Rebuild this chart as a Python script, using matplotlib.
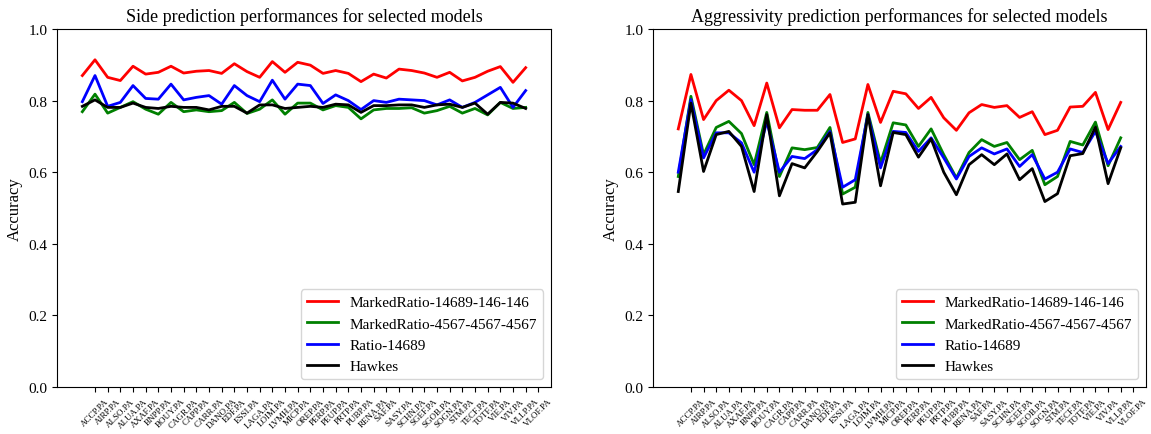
import numpy as np
import matplotlib
matplotlib.use('Agg')
import matplotlib.pyplot as plt

plt.rcParams['font.family'] = ['Liberation Serif', 'DejaVu Serif']

stocks = ['ACCP.PA', 'AIRP.PA', 'ALSO.PA', 'ALUA.PA', 'AXAF.PA', 'BNPP.PA', 'BOUY.PA', 'CAGR.PA',
          'CAPP.PA', 'CARR.PA', 'DANO.PA', 'EDF.PA', 'ESSI.PA', 'LAGA.PA', 'LOIM.PA', 'LVMH.PA',
          'MICP.PA', 'OREP.PA', 'PERP.PA', 'PEUP.PA', 'PRTP.PA', 'PUBP.PA', 'RENA.PA', 'SAF.PA',
          'SASY.PA', 'SCHN.PA', 'SGEF.PA', 'SGOB.PA', 'SOGN.PA', 'STM.PA', 'TECF.PA', 'TOTF.PA',
          'VIE.PA', 'VIV.PA', 'VLLP.PA', 'VLOF.PA']
labels = ['MarkedRatio-14689-146-146', 'MarkedRatio-4567-4567-4567', 'Ratio-14689', 'Hawkes']
colors = ['red', 'green', 'blue', 'black']

side_red = [0.870, 0.914, 0.865, 0.856, 0.896, 0.874, 0.879, 0.896, 0.877, 0.882, 0.884, 0.876,
            0.903, 0.881, 0.865, 0.909, 0.879, 0.907, 0.899, 0.876, 0.884, 0.876, 0.853, 0.874,
            0.863, 0.888, 0.884, 0.877, 0.865, 0.879, 0.855, 0.865, 0.882, 0.895, 0.851, 0.892]
side_green = [0.769, 0.818, 0.765, 0.781, 0.797, 0.776, 0.762, 0.795, 0.769, 0.774, 0.769, 0.772,
              0.795, 0.764, 0.776, 0.802, 0.762, 0.793, 0.793, 0.774, 0.786, 0.781, 0.749, 0.774,
              0.778, 0.778, 0.780, 0.765, 0.772, 0.784, 0.765, 0.778, 0.760, 0.795, 0.778, 0.781]
side_blue = [0.797, 0.870, 0.784, 0.795, 0.842, 0.806, 0.804, 0.846, 0.802, 0.809, 0.814, 0.790,
             0.842, 0.814, 0.797, 0.857, 0.804, 0.846, 0.842, 0.792, 0.816, 0.800, 0.775, 0.800,
             0.795, 0.804, 0.802, 0.800, 0.788, 0.802, 0.781, 0.795, 0.816, 0.837, 0.781, 0.828]
side_black = [0.784, 0.802, 0.781, 0.781, 0.793, 0.781, 0.778, 0.784, 0.781, 0.781, 0.774, 0.784,
              0.784, 0.765, 0.788, 0.788, 0.778, 0.781, 0.784, 0.781, 0.790, 0.788, 0.767, 0.786,
              0.786, 0.788, 0.788, 0.781, 0.788, 0.790, 0.781, 0.793, 0.762, 0.795, 0.793, 0.778]

agg_red = [0.721, 0.873, 0.747, 0.800, 0.829, 0.800, 0.730, 0.849, 0.724, 0.775, 0.773, 0.773,
           0.817, 0.683, 0.693, 0.845, 0.739, 0.826, 0.819, 0.778, 0.809, 0.752, 0.717, 0.766,
           0.789, 0.781, 0.786, 0.753, 0.769, 0.705, 0.717, 0.782, 0.784, 0.823, 0.719, 0.795]
agg_green = [0.588, 0.812, 0.649, 0.725, 0.742, 0.708, 0.621, 0.767, 0.588, 0.668, 0.663, 0.669,
             0.725, 0.539, 0.558, 0.767, 0.626, 0.738, 0.732, 0.672, 0.721, 0.649, 0.584, 0.655,
             0.691, 0.672, 0.683, 0.635, 0.661, 0.565, 0.588, 0.686, 0.676, 0.740, 0.618, 0.696]
agg_blue = [0.600, 0.803, 0.640, 0.710, 0.710, 0.682, 0.600, 0.742, 0.600, 0.644, 0.638, 0.663,
            0.714, 0.558, 0.579, 0.761, 0.612, 0.714, 0.711, 0.658, 0.696, 0.640, 0.581, 0.644,
            0.668, 0.651, 0.665, 0.616, 0.649, 0.581, 0.600, 0.665, 0.655, 0.714, 0.624, 0.672]
agg_black = [0.546, 0.793, 0.602, 0.705, 0.714, 0.672, 0.546, 0.761, 0.534, 0.624, 0.612, 0.658,
             0.710, 0.511, 0.516, 0.761, 0.562, 0.711, 0.705, 0.642, 0.693, 0.600, 0.537, 0.621,
             0.649, 0.621, 0.651, 0.579, 0.610, 0.518, 0.540, 0.646, 0.652, 0.726, 0.568, 0.668]

fig = plt.figure(figsize=(11.51, 4.35), dpi=100)
ax1 = fig.add_axes([57 / 1151, 47 / 435, 494 / 1151, 358 / 435])
ax2 = fig.add_axes([653 / 1151, 47 / 435, 493 / 1151, 358 / 435])

panels = [(ax1, 'Side prediction performances for selected models',
           [side_red, side_green, side_blue, side_black]),
          (ax2, 'Aggressivity prediction performances for selected models',
           [agg_red, agg_green, agg_blue, agg_black])]

x = np.arange(len(stocks))
for ax, title, series in panels:
    for vals, lab, col in zip(series, labels, colors):
        ax.plot(x, vals, color=col, lw=2, label=lab)
    ax.set_ylim(0, 1)
    ax.set_xlim(-2, 37)
    ax.set_xticks(x + 1)
    ax.set_xticklabels(stocks, rotation=45, fontsize=6.5)
    ax.set_yticks(np.arange(0, 1.01, 0.2))
    ax.tick_params(axis='y', labelsize=11)
    ax.set_ylabel('Accuracy', fontsize=12)
    ax.set_title(title, fontsize=13)
    ax.legend(loc='lower right', fontsize=11)

fig.savefig('out.png', dpi=100)
